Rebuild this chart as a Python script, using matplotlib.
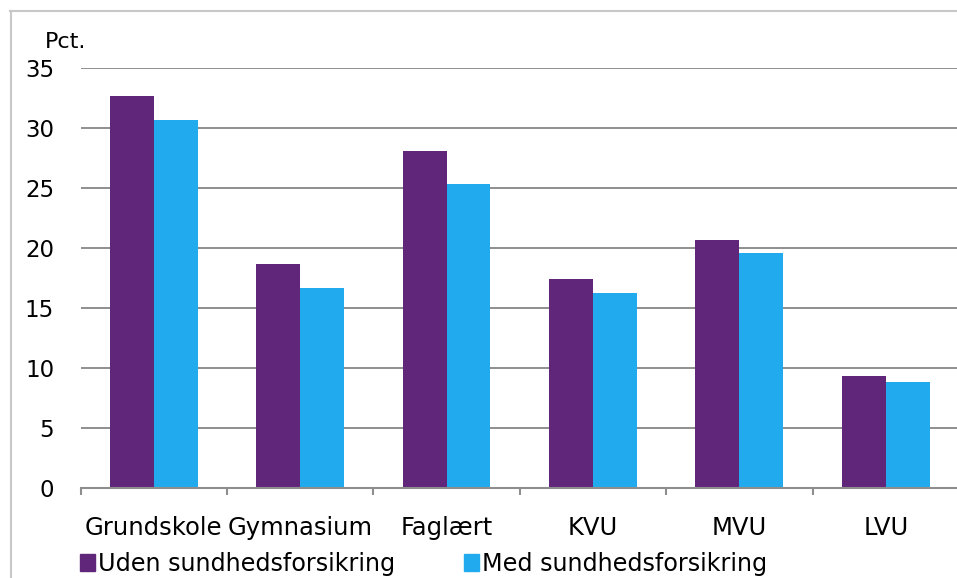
from matplotlib import pyplot as plt
from matplotlib.patches import Patch
from matplotlib.lines import Line2D
import numpy as np

categories = ["Grundskole", "Gymnasium", "Faglært", "KVU", "MVU", "LVU"]
uden = [32.7, 18.7, 28.1, 17.4, 20.7, 9.3]
med = [30.7, 16.7, 25.3, 16.25, 19.6, 8.85]
series_names = ["Uden sundhedsforsikring", "Med sundhedsforsikring"]

purple = "#5f267a"
blue = "#21abee"
gridcol = "#8e8e8e"

fig = plt.figure(figsize=(9.57, 5.78), dpi=100)
W, H = 957, 578
ax = fig.add_axes([80.5 / W, 90 / H, (959 - 80.5) / W, 420 / H])

x = np.arange(len(categories))
w = 0.3
ax.bar(x - w / 2, uden, w, color=purple, zorder=2)
ax.bar(x + w / 2, med, w, color=blue, zorder=2)

ax.set_xlim(-0.5, len(categories) - 0.5)
ax.set_ylim(0, 35)
ax.set_yticks(range(0, 36, 5))
ax.yaxis.grid(True, color=gridcol, linewidth=1.4)
ax.set_axisbelow(True)

for s in ["left", "right", "top"]:
    ax.spines[s].set_visible(False)
ax.spines["bottom"].set_color(gridcol)
ax.spines["bottom"].set_linewidth(1.5)

ax.set_xticks(x)
ax.set_xticklabels(categories, fontsize=17.5)
ax.set_xticks(np.arange(-0.5, len(categories), 1), minor=True)
ax.tick_params(axis="x", which="major", length=0, pad=20)
ax.tick_params(axis="x", which="minor", length=5, width=1.5, color=gridcol, direction="out")
ax.tick_params(axis="y", length=0, pad=19, labelsize=16.5)

fig.text(45 / W, 1 - 42 / H, "Pct.", fontsize=16, va="center", ha="left")

# frame around the chart area
fig.add_artist(Line2D([10.5 / W, 10.5 / W], [0, 1 - 11 / H], color="#c8c8c8", linewidth=1.5))
fig.add_artist(Line2D([10 / W, 1], [1 - 11 / H, 1 - 11 / H], color="#c8c8c8", linewidth=1.5))

handles = [Patch(color=purple), Patch(color=blue)]
fig.legend(handles, series_names, loc="center left", bbox_to_anchor=(80 / W, 14 / H),
           ncol=2, frameon=False, fontsize=17.2, handlelength=0.62, handleheight=0.7,
           handletextpad=0.12, columnspacing=2.9, borderpad=0, borderaxespad=0)

plt.savefig("out.png", dpi=100)
